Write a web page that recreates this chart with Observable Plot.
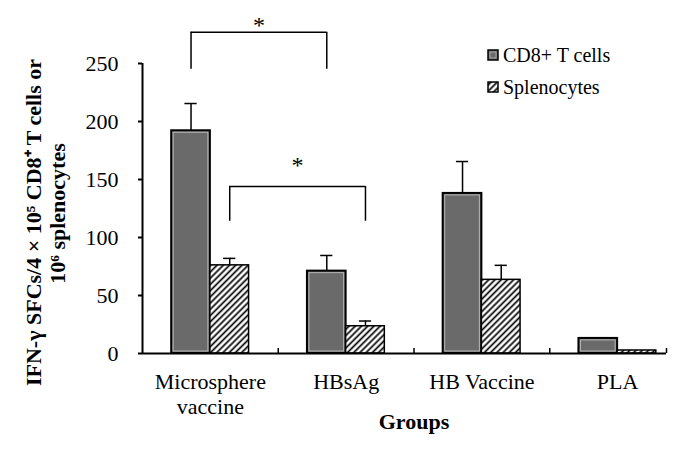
<!DOCTYPE html>
<html><head><meta charset="utf-8">
<script src="https://cdn.jsdelivr.net/npm/d3@7"></script>
<script src="https://cdn.jsdelivr.net/npm/@observablehq/plot@0.6"></script>
<style>
body{margin:0;background:#fff;}
#wrap{position:relative;width:684px;height:450px;}
#legend{position:absolute;left:480px;top:40px;}
</style></head><body>
<svg width="0" height="0" style="position:absolute"><defs>
<pattern id="hatch" patternUnits="userSpaceOnUse" width="4.4" height="4.4" patternTransform="rotate(45)">
<rect width="4.4" height="4.4" fill="white"/>
<line x1="2.2" y1="0" x2="2.2" y2="4.4" stroke="black" stroke-width="1.7"/>
</pattern>
</defs></svg>
<div id="wrap"></div>
<script>
// ---- data ----
const groups = ["Microsphere\nvaccine", "HBsAg", "HB Vaccine", "PLA"];
const seriesNames = ["CD8+ T cells", "Splenocytes"];
const cd8 = [192, 71, 138, 13];
const cd8Err = [23.5, 13.5, 27.5, 0];
const splen = [76, 23.5, 63.5, 2.6];
const splenErr = [6, 4.5, 12.5, 0];
const yTicks = [0, 50, 100, 150, 200, 250];
const yTitle1 = "IFN-γ SFCs/4 × 10⁵ CD8⁺ T cells or";
const yTitle2 = "10⁶ splenocytes";
const xTitle = "Groups";
// significance brackets (group indices, series, levels)
const bracketFrom = [0, 0];
const bracketTo = [1, 1];
const bracketSeries = [0, 1];
const bracketTop = [277, 144];
const bracketLeg = [245, 114];
const bracketStar = [284, 163];
const starLabel = "*";

// ---- layout ----
const xDomain = [-0.5, 3.36];
const barW = 0.285;
const capW = 0.045;
const yPx = 290 / 250;
const font = '"Liberation Serif","Times New Roman",serif';

const rows = [];
groups.forEach((g, i) => {
  rows.push({i, s: 0, x1: i - barW, x2: i, v: cd8[i], e: cd8Err[i]});
  rows.push({i, s: 1, x1: i, x2: i + barW, v: splen[i], e: splenErr[i]});
});
rows.forEach(r => r.cx = (r.x1 + r.x2) / 2);
const barCenter = (g, s) => s === 0 ? g - barW / 2 : g + barW / 2;
const bIdx = bracketTop.map((_, k) => k);
const catTicks = [0.5, 1.5, 2.5, xDomain[1]];
const groupIdx = groups.map((_, i) => i);
const xMid = d3.mean(groupIdx);

const chart = Plot.plot({
  width: 684, height: 450,
  marginLeft: 142, marginRight: 18, marginTop: 63, marginBottom: 97,
  x: {domain: xDomain, axis: null},
  y: {domain: [0, 250]},
  style: {fontFamily: font, fontSize: "22px", color: "black", background: "white"},
  marks: [
    Plot.rectY(rows.filter(r => r.s === 0), {x1: "x1", x2: "x2", y1: 0, y2: "v", fill: "#6a6a6a", stroke: "black", strokeWidth: 2}),
    Plot.rectY(rows.filter(r => r.s === 0 && r.v > 5), {x1: "x1", x2: "x2", y1: 0, y2: "v", fill: "none", stroke: "#b5b5b5", strokeWidth: 1, inset: 2}),
    Plot.rectY(rows.filter(r => r.s === 1), {x1: "x1", x2: "x2", y1: 0, y2: "v", fill: "url(#hatch)", stroke: "black", strokeWidth: 1.5}),
    Plot.ruleX(rows.filter(r => r.e > 0), {x: "cx", y1: "v", y2: d => d.v + d.e, strokeWidth: 1.5}),
    Plot.ruleY(rows.filter(r => r.e > 0), {y: d => d.v + d.e, x1: d => d.cx - capW, x2: d => d.cx + capW, strokeWidth: 1.5}),
    Plot.axisY({ticks: yTicks, tickSize: 4, tickPadding: 20, label: null, strokeWidth: 2}),
    Plot.ruleX([xDomain[0]], {y1: 0, y2: 250, strokeWidth: 2}),
    Plot.ruleY([0], {strokeWidth: 2}),
    Plot.ruleX(catTicks, {x: d => d, y1: 0, y2: 5 / yPx, strokeWidth: 1.5}),
    Plot.text(groups, {x: (d, i) => i, y: 0, text: d => d, lineAnchor: "top", lineHeight: 1.14, dy: 18}),
    Plot.text([xTitle], {x: () => xMid, y: 0, text: d => d, lineAnchor: "bottom", dy: 75, fontWeight: "bold"}),
    Plot.text([yTitle1], {frameAnchor: "left", text: d => d, rotate: -90, textAnchor: "middle", lineAnchor: "bottom", dx: -102, dy: 14, fontWeight: "bold"}),
    Plot.text([yTitle2], {frameAnchor: "left", text: d => d, rotate: -90, textAnchor: "middle", lineAnchor: "bottom", dx: -78, dy: 5, fontWeight: "bold"}),
    // brackets
    Plot.ruleY(bIdx, {y: k => bracketTop[k], x1: k => barCenter(bracketFrom[k], bracketSeries[k]), x2: k => barCenter(bracketTo[k], bracketSeries[k]), strokeWidth: 1.5}),
    Plot.ruleX(bIdx, {x: k => barCenter(bracketFrom[k], bracketSeries[k]), y1: k => bracketLeg[k], y2: k => bracketTop[k], strokeWidth: 1.5}),
    Plot.ruleX(bIdx, {x: k => barCenter(bracketTo[k], bracketSeries[k]), y1: k => bracketLeg[k], y2: k => bracketTop[k], strokeWidth: 1.5}),
    Plot.text(bIdx, {x: k => (barCenter(bracketFrom[k], bracketSeries[k]) + barCenter(bracketTo[k], bracketSeries[k])) / 2, y: k => bracketStar[k], text: () => starLabel, dy: 1, fontSize: 24})
  ]
});
const wrap = document.getElementById("wrap");
wrap.appendChild(chart);

// legend overlay
const leg = d3.select(wrap).append("svg").attr("id", "legend").attr("width", 200).attr("height", 70)
  .style("font-family", font).style("font-size", "20px");
seriesNames.forEach((name, k) => {
  const g = leg.append("g").attr("transform", `translate(8,${10 + k * 32})`);
  g.append("rect").attr("width", 10).attr("height", 10)
    .attr("fill", k === 0 ? "#6a6a6a" : "url(#hatch)").attr("stroke", "black").attr("stroke-width", 1.5);
  if (k === 0) g.append("rect").attr("x", 2).attr("y", 2).attr("width", 6).attr("height", 6).attr("fill", "none").attr("stroke", "#b5b5b5").attr("stroke-width", 0.8);
  g.append("text").attr("x", 15).attr("y", 12).text(name);
});
</script>
</body></html>
